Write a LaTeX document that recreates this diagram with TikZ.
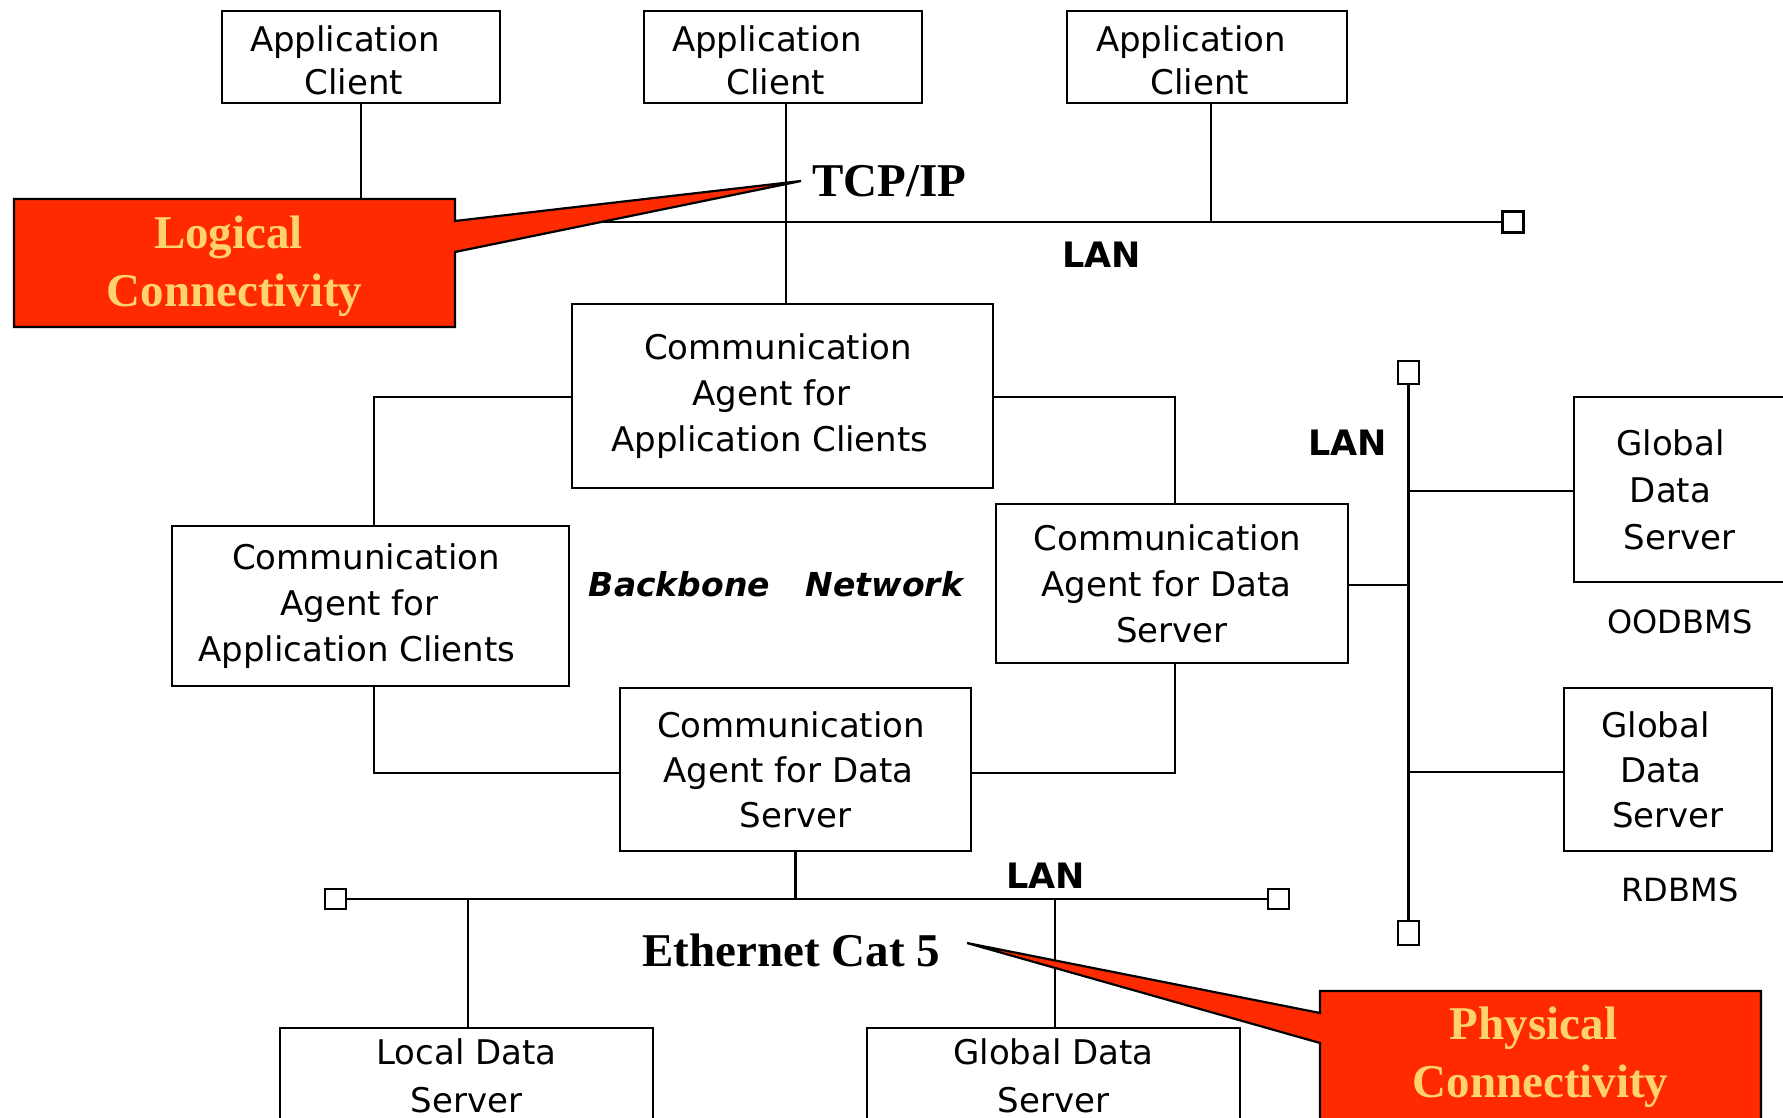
\documentclass[tikz,border=0pt]{standalone}
\usepackage{fontspec}
\setmainfont{DejaVu Sans}
\newfontfamily\tnr{Liberation Serif}
\definecolor{callred}{RGB}{255,42,0}
\definecolor{calltxt}{RGB}{255,210,110}
\newcommand\trailsp[1]{\rule{#1pt}{0pt}}
\tikzset{
  box/.style={draw=black, line width=1.3pt, fill=white, align=center, inner sep=0pt,
    font=\fontsize{17}{23}\selectfont},
  wire/.style={line width=1.15pt},
  termbox/.style={draw=black, line width=1.2pt, fill=white, inner sep=0pt,
    minimum width=10.5pt, minimum height=10.5pt},
  lanlabel/.style={font=\fontsize{17.5}{20}\selectfont\bfseries, inner sep=0pt, anchor=base west},
  callshape/.style={fill=callred, draw=black, line width=1.1pt, line join=miter},
  calltext/.style={font=\tnr\bfseries\fontsize{23.5}{29}\selectfont, text=calltxt, align=center, inner sep=0pt},
  bigserif/.style={font=\tnr\bfseries\fontsize{23.5}{28}\selectfont, inner sep=0pt, anchor=base west},
  dbms/.style={font=\fontsize{16}{20}\selectfont, inner sep=0pt, anchor=base},
}
\begin{document}
\begin{tikzpicture}[x=0.5pt, y=-0.5pt]
\clip (0,0) rectangle (1783,1118);
\fill[white] (0,0) rectangle (1783,1118);

% ---- boxes ----
\node[box, minimum width=139pt, minimum height=46pt, font=\fontsize{17}{21.5}\selectfont] (ac1) at (361,57)
  {\rule{0pt}{16.5pt}Application\trailsp{16}\\Client\trailsp{7}};
\node[box, minimum width=139pt, minimum height=46pt, font=\fontsize{17}{21.5}\selectfont] (ac2) at (783,57)
  {\rule{0pt}{16.5pt}Application\trailsp{16}\\Client\trailsp{7}};
\node[box, minimum width=140pt, minimum height=46pt, font=\fontsize{17}{21.5}\selectfont] (ac3) at (1207,57)
  {\rule{0pt}{16.5pt}Application\trailsp{16}\\Client\trailsp{7}};

\node[box, minimum width=210.5pt, minimum height=92pt] (catop) at (782.5,396)
  {Communication\trailsp{4.5}\\Agent for\trailsp{11}\\Application Clients\trailsp{12.5}};
\node[box, minimum width=198.5pt, minimum height=80pt] (caleft) at (370.5,606)
  {Communication\trailsp{4.5}\\Agent for\trailsp{11}\\Application Clients\trailsp{13.5}};
\node[box, minimum width=176pt, minimum height=79.5pt] (caright) at (1172,583.5)
  {Communication\trailsp{4.5}\\Agent for Data\trailsp{5.5}\\Server};
\node[box, minimum width=175.5pt, minimum height=81.5pt, font=\fontsize{17}{22.5}\selectfont] (cabot) at (795.5,769.5)
  {Communication\trailsp{4.5}\\Agent for Data\trailsp{7}\\Server};

\node[box, minimum width=105.5pt, minimum height=92.5pt, font=\fontsize{17}{23.5}\selectfont] (good) at (1679.5,489.5)
  {Global\trailsp{9}\\Data\trailsp{9}\\Server};
\node[box, minimum width=104pt, minimum height=81.5pt, font=\fontsize{17}{22.5}\selectfont] (grdb) at (1668,769.5)
  {Global\trailsp{12.5}\\Data\trailsp{7}\\Server};

\node[box, minimum width=186.5pt, minimum height=48pt, font=\fontsize{17}{24}\selectfont] (lds) at (466.5,1076)
  {Local Data\\Server};
\node[box, minimum width=186.5pt, minimum height=48pt, font=\fontsize{17}{24}\selectfont] (gds) at (1053.5,1076)
  {Global Data\\Server};

% ---- terminators ----
\node[termbox] (termT) at (1513,222) {};
\node[termbox, minimum height=11.5pt] (termRT) at (1408.5,372.5) {};
\node[termbox, minimum height=12pt] (termRB) at (1408.5,933) {};
\node[termbox, minimum height=10pt] (termBL) at (335.5,899) {};
\node[termbox, minimum height=10pt] (termBR) at (1278.5,899) {};

\coordinate (lanTL) at (362,222);

% ---- wires ----
\begin{scope}[wire]
  \draw (lanTL) -- (termT.west);
  \draw (ac1.south) -- (ac1.south |- lanTL);
  \draw ([xshift=1.5pt]ac2.south) -- ([xshift=1.5pt]ac2.south |- catop.north);
  \draw ([xshift=2pt]ac3.south) -- ([xshift=2pt]ac3.south |- lanTL);
  \draw ([yshift=-0.5pt]catop.west) -| ([xshift=1.75pt]caleft.north);
  \draw ([yshift=-0.5pt]catop.east) -| ([xshift=1.5pt]caright.north);
  \draw ([xshift=1.75pt]caleft.south) |- ([yshift=-1.75pt]cabot.west);
  \draw ([xshift=1.5pt]caright.south) |- ([yshift=-1.75pt]cabot.east);
  \draw (termBL.east) -- (termBR.west);
  \draw (cabot.south) -- (cabot.south |- termBL);
  \draw ([xshift=0.75pt]lds.north) -- ([xshift=0.75pt]lds.north |- termBL);
  \draw ([xshift=0.75pt]gds.north) -- ([xshift=0.75pt]gds.north |- termBL);
  \draw (termRT.south) -- (termRB.north);
  \draw ([yshift=-0.75pt]caright.east) -- ([yshift=-0.75pt]caright.east -| termRT);
  \draw ([yshift=-0.75pt]good.west) -- ([yshift=-0.75pt]good.west -| termRT);
  \draw ([yshift=-1.25pt]grdb.west) -- ([yshift=-1.25pt]grdb.west -| termRT);
\end{scope}

% ---- callouts ----
\draw[callshape] (14,199) -- (455,199) -- (455,221) -- (801,181) -- (455,252)
  -- (455,327) -- (14,327) -- cycle;
\node[calltext] (logical) at (234.5,266.5) {Logical\trailsp{6}\\Connectivity};

\draw[callshape] (1320,991) -- (1761,991) -- (1761,1130) -- (1320,1130)
  -- (1320,1043) -- (967,943) -- (1320,1013) -- cycle;
\node[calltext] (physical) at (1540.5,1057) {Physical\trailsp{7}\\Connectivity};

% ---- labels ----
\node[bigserif] (tcpip) at (812,197) {TCP/IP};
\node[bigserif] (ether) at (642,966) {Ethernet Cat 5};
\node[lanlabel] (lan1) at (1062,268) {LAN};
\node[lanlabel] (lan2) at (1308,455) {LAN};
\node[lanlabel] (lan3) at (1006,888) {LAN};
\node[font=\fontsize{16.5}{20}\selectfont\bfseries\itshape, inner sep=0pt, anchor=base west] (backbone)
  at (588.5,596) {Backbone\hspace{18pt}Network};
\node[dbms] (oodbms) at (1680,633) {OODBMS};
\node[dbms] (rdbms) at (1680,901) {RDBMS};
\end{tikzpicture}
\end{document}
